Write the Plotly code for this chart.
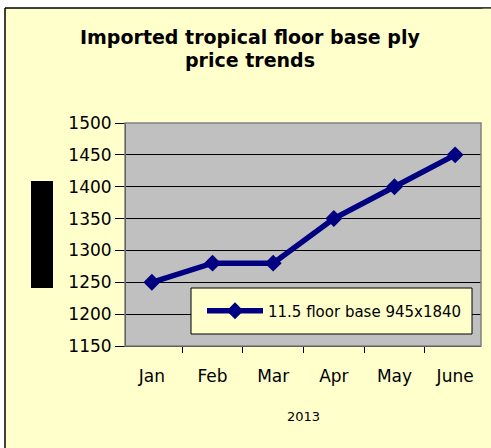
import plotly.graph_objects as go

months = ["Jan", "Feb", "Mar", "Apr", "May", "June"]
prices = [1250, 1280, 1280, 1350, 1400, 1450]
series_name = "11.5 floor base 945x1840"
title_line1 = "Imported tropical floor base ply"
title_line2 = "price trends"
x_title = "2013"
y_ticks = [1150, 1200, 1250, 1300, 1350, 1400, 1450, 1500]

W, H = 491, 448
ml, mr, mt, mb = 126, 10, 123, 102
pw, ph = W - ml - mr, H - mt - mb

def px(x):
    return (x - ml) / pw

def py(y):
    return (H - mb - y) / ph

FONT = "DejaVu Sans, Liberation Sans, Arial, sans-serif"

fig = go.Figure()
fig.add_trace(go.Scatter(
    x=months, y=prices, mode="lines+markers", name=series_name,
    line=dict(color="#000080", width=5.5),
    marker=dict(symbol="diamond", size=13, color="#000080"),
))

fig.update_layout(
    width=W, height=H,
    margin=dict(l=ml, r=mr, t=mt, b=mb, autoexpand=False),
    paper_bgcolor="#FFFFCC",
    plot_bgcolor="#C0C0C0",
    font=dict(family=FONT, color="#000000"),
    showlegend=True,
    legend=dict(
        x=px(202), y=py(311), xanchor="left", yanchor="middle",
        bgcolor="rgba(0,0,0,0)", borderwidth=0,
        font=dict(size=15, family=FONT),
        itemwidth=56,
    ),
    xaxis=dict(
        type="category", tickson="boundaries", ticks="outside", ticklen=6,
        tickcolor="#000000", showgrid=False, showline=True, linecolor="#000000",
        tickfont=dict(size=17), ticklabelstandoff=15,
        title=dict(text=x_title, font=dict(size=13), standoff=26),
    ),
    yaxis=dict(
        range=[1150, 1500], tickvals=y_ticks, ticks="outside", ticklen=10,
        tickcolor="#000000", showgrid=True, gridcolor="#000000", gridwidth=1,
        showline=True, linecolor="#000000", tickfont=dict(size=17),
        zeroline=False,
    ),
    shapes=[
        dict(type="rect", xref="paper", yref="paper", x0=px(-10), x1=px(5),
             y0=py(460), y1=py(-10), fillcolor="#FFFFFF", line=dict(width=0), layer="below"),
        dict(type="rect", xref="paper", yref="paper", x0=px(-10), x1=px(500),
             y0=py(8), y1=py(-10), fillcolor="#FFFFFF", line=dict(width=0), layer="below"),
        dict(type="line", xref="paper", yref="paper", x0=px(5), x1=px(500),
             y0=py(8), y1=py(8), line=dict(color="#000000", width=1.5), layer="below"),
        dict(type="line", xref="paper", yref="paper", x0=px(5), x1=px(5),
             y0=py(8), y1=py(460), line=dict(color="#000000", width=1.5), layer="below"),
        dict(type="rect", xref="paper", yref="paper", x0=px(482.5), x1=px(520),
             y0=py(460), y1=py(8.8), fillcolor="#FFFFCC", line=dict(width=0), layer="above"),
        dict(type="rect", xref="paper", yref="paper", x0=px(125), x1=px(481),
             y0=py(346), y1=py(123), line=dict(color="#808080", width=1.5), layer="above"),
        dict(type="rect", xref="paper", yref="paper", x0=px(191), x1=px(472),
             y0=py(334), y1=py(288), fillcolor="#FFFFCC",
             line=dict(color="#000000", width=1), layer="above"),
        dict(type="rect", xref="paper", yref="paper", x0=px(31), x1=px(53),
             y0=py(288), y1=py(181), fillcolor="#000000", line=dict(width=0), layer="above"),
    ],
    annotations=[
        dict(text="<b>" + title_line1 + "</b>", xref="paper", yref="paper",
             x=px(250), y=py(37), xanchor="center", yanchor="middle",
             showarrow=False, font=dict(size=19, family=FONT)),
        dict(text="<b>" + title_line2 + "</b>", xref="paper", yref="paper",
             x=px(250), y=py(60), xanchor="center", yanchor="middle",
             showarrow=False, font=dict(size=19, family=FONT)),
    ],
)

fig.write_html(
    "out.html",
    config={"displayModeBar": False},
    post_script=(
        "document.body.style.margin='0';"
        "document.body.style.overflow='hidden';"
        "document.documentElement.style.overflow='hidden';"
    ),
)
